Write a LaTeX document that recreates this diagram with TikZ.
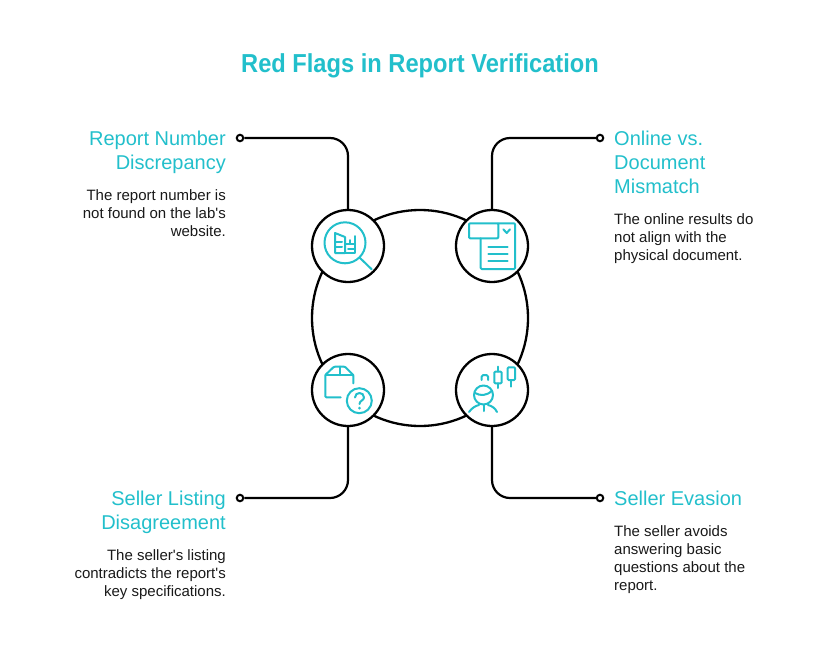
\documentclass[tikz,border=0pt]{standalone}
\usepackage{fontspec}
\setmainfont{Liberation Sans}
\newfontfamily\titlefont[FakeStretch=0.91,BoldFont={Liberation Sans Bold}]{Liberation Sans}
\definecolor{flagteal}{HTML}{22BFCB}
\newcommand{\qt}{\textquotesingle}
\tikzset{
  ring/.style={draw=black,line width=2.3pt,fill=white},
  wire/.style={draw=black,line width=2.2pt},
  dot/.style={circle,draw=black,line width=2pt,fill=white,inner sep=0pt,minimum size=6.5pt},
  icon/.style={draw=flagteal,line width=2pt,line join=round,line cap=round},
  headl/.style={anchor=north west,align=left,inner sep=0pt,text=flagteal,font=\fontsize{20}{24}\selectfont},
  headr/.style={anchor=north east,align=right,inner sep=0pt,text=flagteal,font=\fontsize{20}{24}\selectfont},
  bodyl/.style={anchor=north west,align=left,inner sep=0pt,text=black!90,font=\fontsize{15}{18}\selectfont},
  bodyr/.style={anchor=north east,align=right,inner sep=0pt,text=black!90,font=\fontsize{15}{18}\selectfont}
}
\begin{document}
\begin{tikzpicture}[x=1pt,y=-1pt]
\useasboundingbox (0,0) rectangle (840,648);

\node[inner sep=0pt,text=flagteal,font=\titlefont\fontsize{26}{30}\selectfont\bfseries] (title) at (420,65.5) {Red Flags in Report Verification};

% The large ring.
\node[ring,circle,inner sep=0pt,minimum size=216pt] (hub) at (420,318) {};

% The four small rings.
\node[ring,circle,inner sep=0pt,minimum size=72pt] (nw) at (348,246) {};
\node[ring,circle,inner sep=0pt,minimum size=72pt] (ne) at (492,246) {};
\node[ring,circle,inner sep=0pt,minimum size=72pt] (sw) at (348,390) {};
\node[ring,circle,inner sep=0pt,minimum size=72pt] (se) at (492,390) {};

% The end dots.
\node[dot] (dotnw) at (240,138) {};
\node[dot] (dotne) at (600,138) {};
\node[dot] (dotsw) at (240,498) {};
\node[dot] (dotse) at (600,498) {};

\draw[wire,rounded corners=18pt] (dotnw) -- (348,138) -- (nw);
\draw[wire,rounded corners=18pt] (dotne) -- (492,138) -- (ne);
\draw[wire,rounded corners=18pt] (dotsw) -- (348,498) -- (sw);
\draw[wire,rounded corners=18pt] (dotse) -- (492,498) -- (se);

% The texts.
\node[headr] (headnw) at (226,131) {Report Number\\Discrepancy};
\node[bodyr] (bodynw) at (226,189) {The report number is\\not found on the lab\qt s\\website.};
\node[headl] (headne) at (614,131) {Online vs.\\Document\\Mismatch};
\node[bodyl] (bodyne) at (614,213) {The online results do\\not align with the\\physical document.};
\node[headr] (headsw) at (226,491) {Seller Listing\\Disagreement};
\node[bodyr] (bodysw) at (226,549) {The seller\qt s listing\\contradicts the report\qt s\\key specifications.};
\node[headl] (headse) at (614,491) {Seller Evasion};
\node[bodyl] (bodyse) at (614,525) {The seller avoids\\answering basic\\questions about the\\report.};

% The magnifier icon.
\draw[icon] (345,242.8) circle[radius=20.5];
\draw[icon] (359.5,257.5) -- (371.7,269.3);
\draw[icon] (345,253) -- (335,253) -- (335,233) -- (345,237) -- cycle;
\draw[icon] (345,243.5) -- (350,243.5) -- (350,240);
\draw[icon] (355,236) -- (355,253) -- (345,253);
\draw[icon] (335,241.5) -- (342,241.5) (335,247) -- (342,247) (348,243.5) -- (355,243.5) (348,249) -- (355,249);

% The document icon.
\draw[icon,rounded corners=1pt] (469,223.3) rectangle (498.3,238.3);
\draw[icon,rounded corners=1pt] (498.3,223.3) -- (515,223.3) -- (515,269) -- (480.7,269) -- (480.7,238.3);
\draw[icon] (503.3,229.3) -- (506.7,233) -- (510,229.3);
\draw[icon] (488.3,246.7) -- (507.7,246.7) (488.3,254) -- (507.7,254) (488.3,261) -- (507.7,261);

% The parcel icon.
\draw[icon,rounded corners=1pt] (353.3,383.3) -- (353.3,375) -- (345,366.7) -- (334,366.7) -- (325.3,375) -- (325.3,397.3) -- (340.7,397.3);
\draw[icon] (325.3,375) -- (353.3,375) (340,366.7) -- (340,375);
\draw[icon] (359.3,400.7) circle[radius=12.5];
\draw[icon] (355,397.5) .. controls (355,391.5) and (364,391.5) .. (364,397.5) .. controls (364,400.5) and (359.5,400.5) .. (359.5,404);
\fill[flagteal] (359.5,408) circle[radius=1.5];

% The trader icon.
\draw[icon] (483.5,395) circle[radius=9.5];
\draw[icon] (475,393) .. controls (480,396) and (487,396) .. (492,390.5);
\draw[icon] (469,412) .. controls (472,408) and (475,406) .. (479,405);
\draw[icon] (488,405) .. controls (492,406) and (495,408) .. (497,412);
\draw[icon] (483.5,405) -- (483.5,411);
\draw[icon,rounded corners=1.5pt] (481.7,380) -- (481.7,375) -- (488,375) -- (488,380);
\draw[icon,rounded corners=1pt] (494.3,371.7) rectangle (501.7,383.3);
\draw[icon] (498,366.7) -- (498,371.7) (498,383.3) -- (498,388);
\draw[icon,rounded corners=1pt] (507.7,367.3) rectangle (515,380);
\draw[icon] (511.3,380) -- (511.3,386.7);
\end{tikzpicture}
\end{document}
